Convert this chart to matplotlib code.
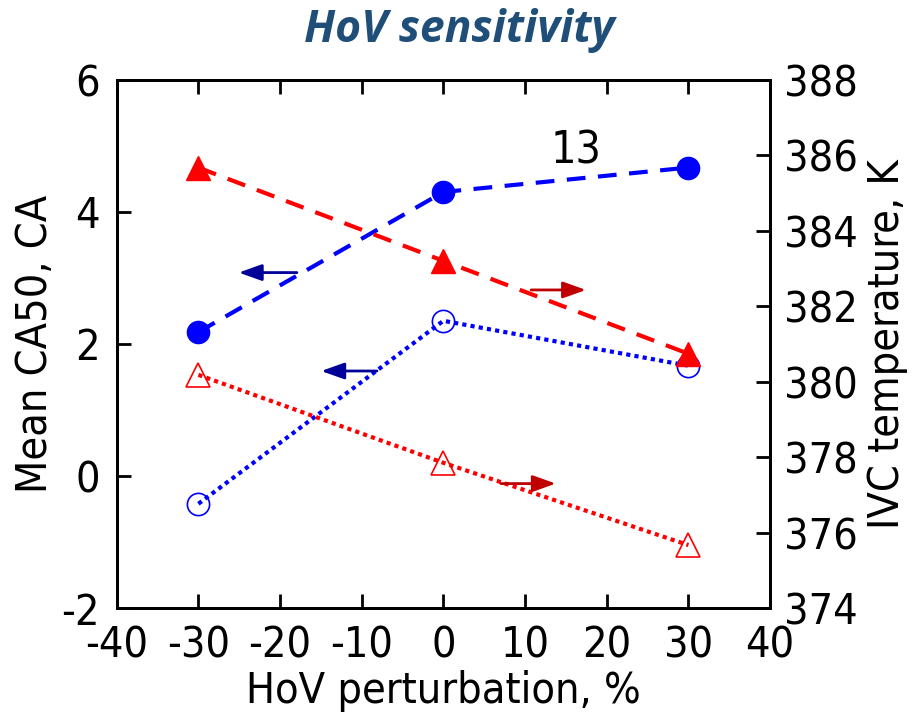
import matplotlib
matplotlib.use('Agg')
import matplotlib.pyplot as plt

# HoV perturbation levels
hov = [-30, 0, 30]

# Mean CA50 (left axis)
ca50_13 = [2.18, 4.30, 4.67]
ca50_base = [-0.42, 2.35, 1.67]

# IVC temperature (right axis)
tivc_13 = [385.67, 383.2, 380.74]
tivc_base = [380.18, 377.85, 375.67]

xticks = [-40, -30, -20, -10, 0, 10, 20, 30, 40]
yticks_left = [-2, 0, 2, 4, 6]
yticks_right = [374, 376, 378, 380, 382, 384, 386, 388]

plt.rcParams['font.family'] = ['DejaVu Sans']
plt.rcParams['font.stretch'] = 'condensed'
plt.rcParams['axes.unicode_minus'] = False

fig = plt.figure(figsize=(9.19, 7.18), dpi=100)
ax = fig.add_axes([0.127, 0.153, 0.711, 0.736])
ax2 = ax.twinx()

blue = '#0000FF'
red = '#FF0000'

# left axis: CA50
ax.plot(hov, ca50_13, color=blue, linestyle=(0, (4.5, 3)), linewidth=3,
        marker='o', markersize=16, markerfacecolor=blue, markeredgecolor=blue)
ax.plot(hov, ca50_base, color=blue, linestyle=(0, (1, 1)), linewidth=3,
        marker='o', markersize=16, markerfacecolor='none', markeredgecolor=blue,
        markeredgewidth=1.2)

# right axis: IVC temperature
ax2.plot(hov, tivc_13, color=red, linestyle=(0, (4.5, 3)), linewidth=3,
         marker='^', markersize=17, markerfacecolor=red, markeredgecolor=red)
ax2.plot(hov, tivc_base, color=red, linestyle=(0, (1, 1)), linewidth=3,
         marker='^', markersize=17, markerfacecolor='none', markeredgecolor=red,
         markeredgewidth=1.2)

# direction arrows
arrow_b = dict(arrowstyle='-|>,head_length=1.4,head_width=0.5', color='#000099', lw=2)
arrow_r = dict(arrowstyle='-|>,head_length=1.4,head_width=0.5', color='#C00000', lw=2)
ax.annotate('', xy=(-25.4, 3.08), xytext=(-17.6, 3.08), arrowprops=arrow_b)
ax.annotate('', xy=(-15.3, 1.59), xytext=(-7.8, 1.59), arrowprops=arrow_b)
ax2.annotate('', xy=(17.8, 382.43), xytext=(10.4, 382.43), arrowprops=arrow_r)
ax2.annotate('', xy=(14.1, 377.3), xytext=(6.7, 377.3), arrowprops=arrow_r)

ax.text(16.3, 4.92, '13', fontsize=32, ha='center', va='center')

ax.set_xlim(-40, 40)
ax.set_ylim(-2, 6)
ax2.set_ylim(374, 388)
ax.set_xticks(xticks)
ax.set_yticks(yticks_left)
ax2.set_yticks(yticks_right)

ax.tick_params(axis='both', direction='in', length=10, width=2, labelsize=31,
               top=True)
ax.tick_params(axis='x', pad=12)
ax.tick_params(axis='y', right=False, pad=12)
ax2.tick_params(axis='y', direction='in', length=10, width=2, labelsize=31, pad=10)
for a in (ax, ax2):
    for s in a.spines.values():
        s.set_linewidth(2)

ax.set_xlabel('HoV perturbation, %', fontsize=31, labelpad=2)
ax.set_ylabel('Mean CA50, CA', fontsize=31, labelpad=4)
ax2.set_ylabel('IVC temperature, K', fontsize=31, labelpad=6)

fig.text(0.5, 0.957, 'HoV sensitivity', ha='center', va='center', fontsize=32,
         fontweight='bold', fontstyle='italic', color='#1F4E79', family='Open Sans')

fig.savefig('out.png', dpi=100)
